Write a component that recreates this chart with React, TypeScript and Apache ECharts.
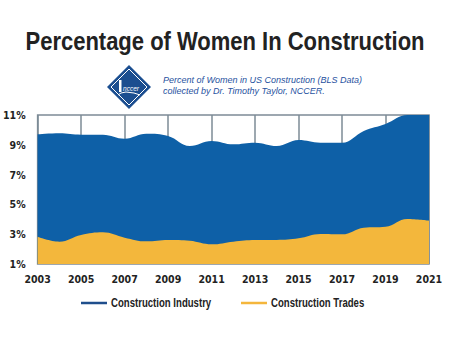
import React, { useEffect, useRef } from "react";
import * as echarts from "echarts";

const years = ["2003","2004","2005","2006","2007","2008","2009","2010","2011","2012","2013","2014","2015","2016","2017","2018","2019","2020","2021"];
const industry = [9.70, 9.77, 9.68, 9.68, 9.41, 9.74, 9.59, 8.92, 9.26, 9.03, 9.14, 8.92, 9.32, 9.14, 9.14, 9.93, 10.4, 11.0, 11.0];
const trades = [2.83, 2.50, 2.95, 3.13, 2.77, 2.52, 2.61, 2.56, 2.32, 2.50, 2.61, 2.61, 2.72, 3.01, 2.99, 3.44, 3.50, 4.02, 3.91];
const seriesNames = ["Construction Industry", "Construction Trades"];
const seriesColors = ["#0e60a7", "#f3b73c"];
const legendLineColors = ["#1f4e8c", "#f4b63c"];
const titleText = "Percentage of Women In Construction";
const subtitleLines = ["Percent of Women in US Construction (BLS Data)", "collected by Dr. Timothy Taylor, NCCER."];

const COND = "'DejaVu Sans Condensed', 'Liberation Sans', sans-serif";
const SANS = "'Liberation Sans', Arial, sans-serif";

export default function App() {
  const ref = useRef<HTMLDivElement>(null);
  useEffect(() => {
    const chart = echarts.init(ref.current!, null, { renderer: "svg" });
    const legendItems: any[] = [];
    const legendX = [81, 241];
    seriesNames.forEach((name, i) => {
      legendItems.push({
        type: "line",
        shape: { x1: legendX[i], y1: 303, x2: legendX[i] + 26, y2: 303 },
        style: { stroke: legendLineColors[i], lineWidth: 2.5 },
      });
      legendItems.push({
        type: "text",
        x: legendX[i] + 30,
        y: 303,
        scaleX: 0.8,
        style: { text: name, fill: "#222222", fontSize: 12, fontWeight: "bold", fontFamily: SANS, align: "left", verticalAlign: "middle" },
      });
    });
    chart.setOption({
      animation: false,
      backgroundColor: "#ffffff",
      graphic: [
        {
          type: "text",
          x: 225,
          y: 42,
          scaleX: 0.88,
          style: { text: titleText, fill: "#222222", fontSize: 25, fontWeight: "bold", fontFamily: SANS, align: "center", verticalAlign: "middle" },
        },
        {
          type: "polygon",
          shape: { points: [[129, 65], [151, 87], [129, 109], [107, 87]] },
          style: { fill: "#1b4e90" },
        },
        {
          type: "polygon",
          shape: { points: [[129, 69], [147, 87], [129, 105], [111, 87]] },
          style: { fill: "none", stroke: "#ffffff", lineWidth: 1 },
        },
        {
          type: "polyline",
          shape: { points: [[118, 95], [121, 93], [126, 92], [134, 93], [140, 95]] },
          style: { stroke: "#ffffff", lineWidth: 1, fill: "none" },
        },
        {
          type: "rect",
          shape: { x: 119, y: 80, width: 2.5, height: 12 },
          style: { fill: "#ffffff" },
        },
        {
          type: "text",
          x: 131,
          y: 88,
          style: { text: "nccer", fill: "#ffffff", fontSize: 6.5, fontStyle: "italic", fontFamily: SANS, align: "center", verticalAlign: "middle" },
        },
        {
          type: "text",
          x: 163,
          y: 80,
          style: { text: subtitleLines[0], fill: "#1f52a0", fontSize: 9, fontStyle: "italic", fontFamily: SANS, verticalAlign: "middle" },
        },
        {
          type: "text",
          x: 163,
          y: 91,
          style: { text: subtitleLines[1], fill: "#1f52a0", fontSize: 9, fontStyle: "italic", fontFamily: SANS, verticalAlign: "middle" },
        },
        ...legendItems,
      ],
      grid: {
        left: 36,
        right: 21,
        top: 115,
        height: 149,
        show: true,
        borderColor: "#7d8b96",
        borderWidth: 1.5,
        containLabel: false,
      },
      xAxis: {
        type: "category",
        data: years,
        boundaryGap: false,
        axisLine: { show: false },
        axisTick: { show: false },
        axisLabel: {
          interval: 1,
          margin: 9,
          fontFamily: COND,
          fontWeight: "bold",
          fontSize: 10.5,
          color: "#222222",
        },
        splitLine: { show: true, interval: 1, lineStyle: { color: "#7d8b96", width: 1.5 } },
      },
      yAxis: {
        type: "value",
        min: 1,
        max: 11,
        interval: 2,
        axisLine: { show: false },
        axisTick: { show: false },
        splitLine: { show: false },
        axisLabel: {
          formatter: "{value}%",
          margin: 12,
          fontFamily: COND,
          fontWeight: "bold",
          fontSize: 10.5,
          color: "#222222",
        },
      },
      series: [
        {
          name: seriesNames[0],
          type: "line",
          data: industry,
          smooth: 0.4,
          showSymbol: false,
          symbol: "none",
          clip: true,
          lineStyle: { width: 0, color: legendLineColors[0] },
          itemStyle: { color: legendLineColors[0] },
          areaStyle: { color: seriesColors[0], opacity: 1 },
        },
        {
          name: seriesNames[1],
          type: "line",
          data: trades,
          smooth: 0.4,
          showSymbol: false,
          symbol: "none",
          lineStyle: { width: 0, color: legendLineColors[1] },
          itemStyle: { color: legendLineColors[1] },
          areaStyle: { color: seriesColors[1], opacity: 1 },
        },
      ],
    });
    return () => chart.dispose();
  }, []);
  return <div ref={ref} style={{ width: 450, height: 360, position: "absolute", left: 0, top: 0 }} />;
}
